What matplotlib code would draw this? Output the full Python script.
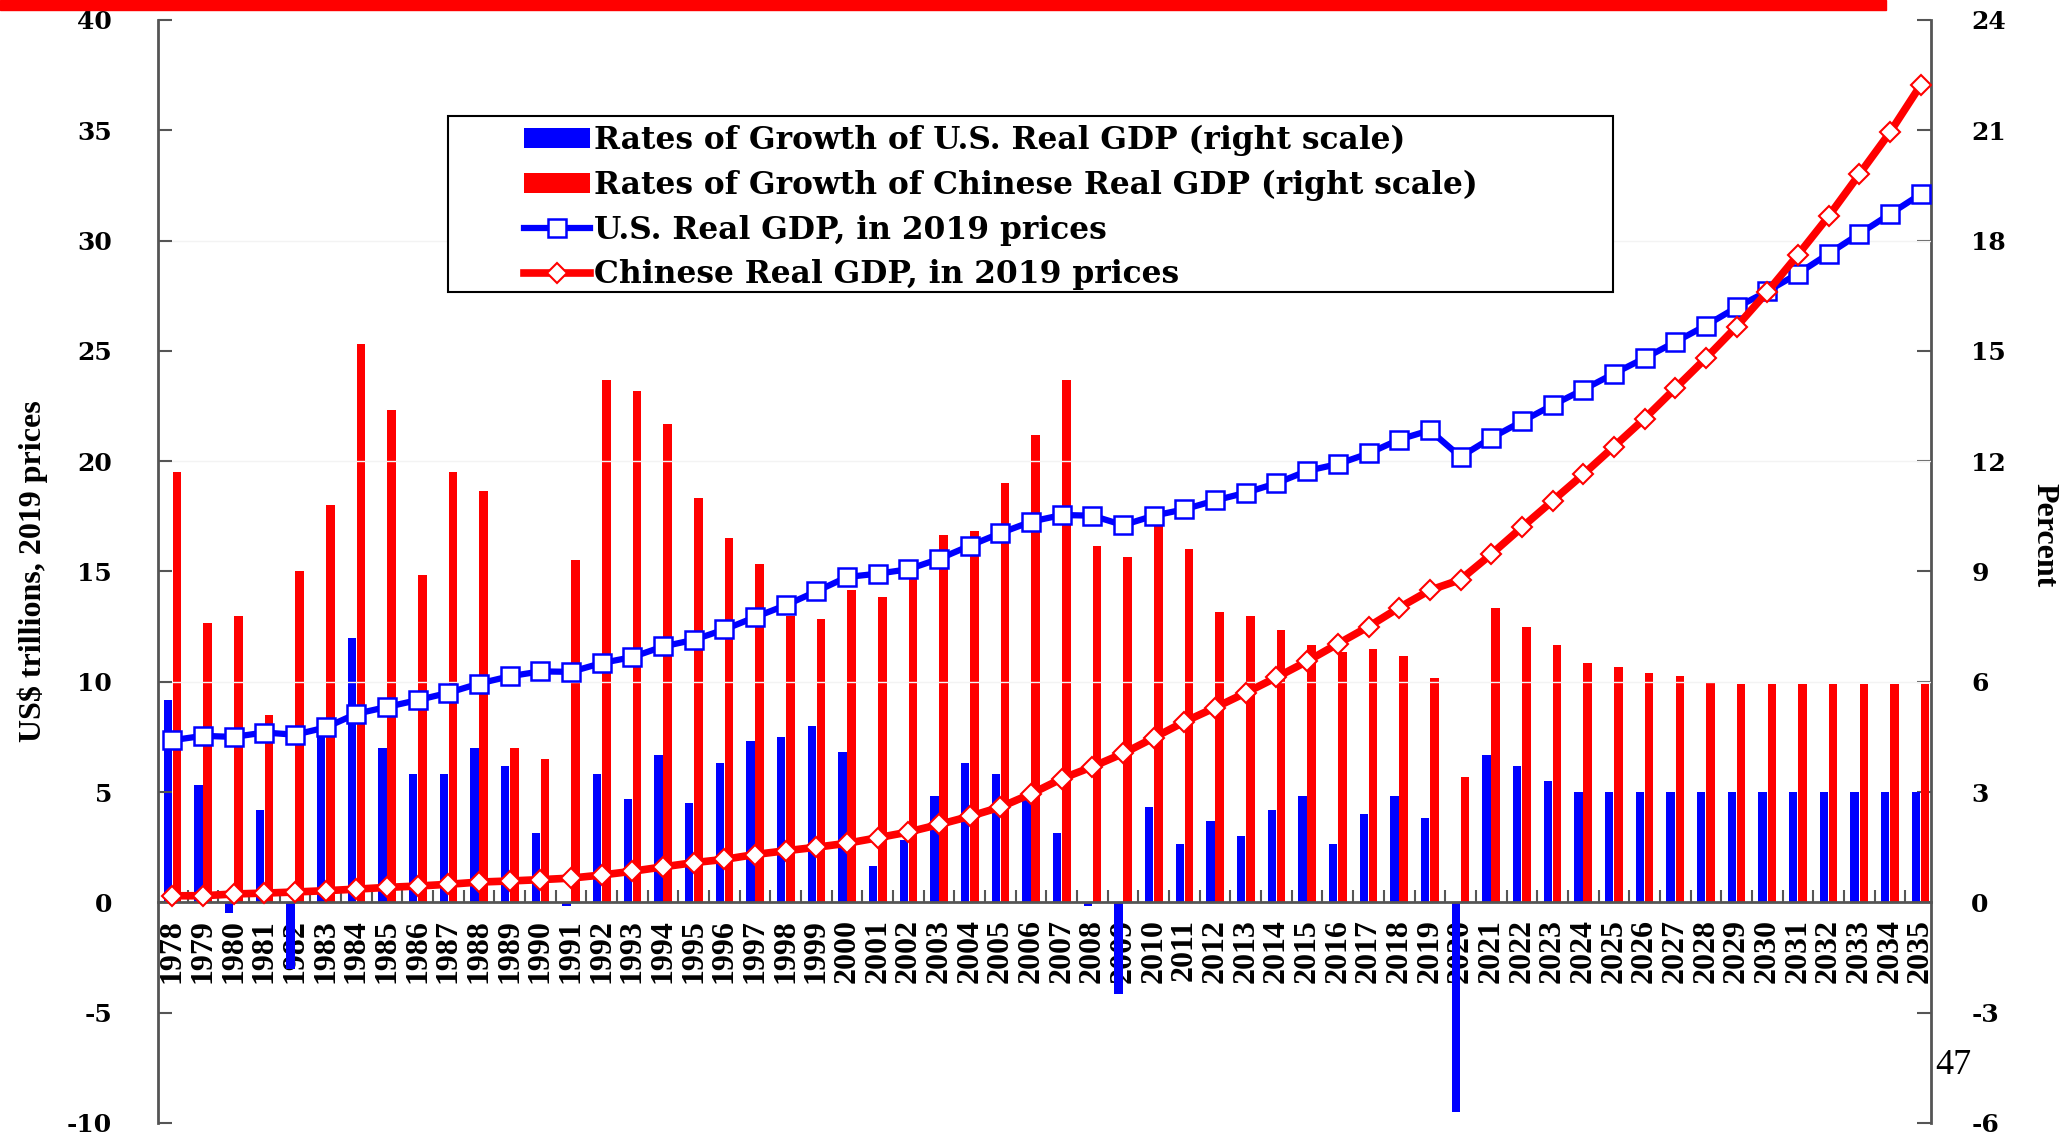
import numpy as np
import matplotlib
matplotlib.use('Agg')
import matplotlib.pyplot as plt
from matplotlib.patches import Rectangle
from matplotlib.ticker import FixedLocator

# data
years = list(range(1978, 2036))

us_growth = [5.5, 3.2, -0.3, 2.5, -1.8, 4.6, 7.2, 4.2, 3.5, 3.5,
             4.2, 3.7, 1.9, -0.1, 3.5, 2.8, 4.0, 2.7, 3.8, 4.4,
             4.5, 4.8, 4.1, 1.0, 1.7, 2.9, 3.8, 3.5, 2.8, 1.9,
             -0.1, -2.5, 2.6, 1.6, 2.2, 1.8, 2.5, 2.9, 1.6, 2.4,
             2.9, 2.3, -5.7, 4.0, 3.7, 3.3, 3.0, 3.0, 3.0, 3.0,
             3.0, 3.0, 3.0, 3.0, 3.0, 3.0, 3.0, 3.0]

cn_growth = [11.7, 7.6, 7.8, 5.1, 9.0, 10.8, 15.2, 13.4, 8.9, 11.7,
             11.2, 4.2, 3.9, 9.3, 14.2, 13.9, 13.0, 11.0, 9.9, 9.2,
             7.8, 7.7, 8.5, 8.3, 9.1, 10.0, 10.1, 11.4, 12.7, 14.2,
             9.7, 9.4, 10.6, 9.6, 7.9, 7.8, 7.4, 7.0, 6.8, 6.9,
             6.7, 6.1, 3.4, 8.0, 7.5, 7.0, 6.5, 6.4, 6.25, 6.15,
             6.0, 5.95, 5.95, 5.95, 5.95, 5.95, 5.95, 5.95]

us_gdp = [7.35, 7.55, 7.5, 7.7, 7.6, 7.93, 8.55, 8.86, 9.17, 9.5,
          9.92, 10.25, 10.47, 10.45, 10.85, 11.12, 11.6, 11.9, 12.37, 12.93,
          13.47, 14.1, 14.75, 14.9, 15.1, 15.57, 16.17, 16.74, 17.26, 17.56,
          17.53, 17.1, 17.53, 17.82, 18.22, 18.57, 19.0, 19.56, 19.87, 20.35,
          20.98, 21.4, 20.2, 21.05, 21.8, 22.54, 23.24, 23.97, 24.67, 25.4,
          26.15, 26.97, 27.7, 28.5, 29.4, 30.3, 31.2, 32.1]

cn_gdp = [0.3, 0.3, 0.38, 0.42, 0.47, 0.53, 0.6, 0.68, 0.74, 0.82,
          0.92, 0.97, 1.03, 1.1, 1.24, 1.41, 1.61, 1.8, 1.95, 2.17,
          2.34, 2.5, 2.68, 2.93, 3.19, 3.53, 3.9, 4.32, 4.92, 5.61,
          6.15, 6.75, 7.46, 8.19, 8.83, 9.5, 10.2, 10.93, 11.72, 12.5,
          13.36, 14.15, 14.63, 15.78, 17.0, 18.2, 19.4, 20.66, 21.93, 23.3,
          24.67, 26.1, 27.67, 29.35, 31.1, 33.0, 34.9, 37.04]

left_ticks = list(range(-10, 41, 5))
right_ticks = list(range(-6, 25, 3))

labels = ['Rates of Growth of U.S. Real GDP (right scale)',
          'Rates of Growth of Chinese Real GDP (right scale)',
          'U.S. Real GDP, in 2019 prices',
          'Chinese Real GDP, in 2019 prices']

BLUE = '#0000ff'
RED = '#ff0000'
AXCOL = '#555555'
# slide text is a horizontally stretched Times: wide serif for horizontal text
WIDE = ['DejaVu Serif']
NARROW = ['Liberation Serif', 'DejaVu Serif']

plt.rcParams['font.family'] = NARROW
plt.rcParams['font.weight'] = 'bold'

fig = plt.figure(figsize=(20.65, 11.35), dpi=100)
ax = fig.add_axes([0.0765, 0.0106, 0.8586, 0.9718])
ax2 = ax.twinx()

x = np.arange(len(years))

# bars on the right (percent) scale
b_us = ax2.bar(x - 0.15, us_growth, width=0.27, color=BLUE, zorder=3)
b_cn = ax2.bar(x + 0.15, cn_growth, width=0.28, color=RED, zorder=3)

# levels on the left scale, drawn above the bars
l_us, = ax.plot(x, us_gdp, color=BLUE, lw=4.5, marker='s', ms=13,
                mfc='white', mec=BLUE, mew=1.8, zorder=4)
l_cn, = ax.plot(x, cn_gdp, color=RED, lw=5.5, marker='D', ms=10,
                mfc='white', mec=RED, mew=1.5, zorder=5)
ax.set_zorder(ax2.get_zorder() + 1)
ax.patch.set_visible(False)

ax.set_xlim(-0.47, 57.34)
ax.set_ylim(-10, 40)
ax2.set_ylim(-6, 24)

ax.set_yticks(left_ticks)
ax.set_yticklabels([str(t) for t in left_ticks], family=WIDE)
ax2.set_yticks(right_ticks)
ax2.set_yticklabels([str(t) for t in right_ticks], family=WIDE)

for t in [10, 20, 30]:
    ax.axhline(t, color='#f3f3f3', lw=1, zorder=0)

# x axis sits on zero; year labels on the bar axes so negative bars cover them
ax.spines['bottom'].set_position(('data', 0))
ax2.spines['bottom'].set_position(('data', 0))
ax2.spines['bottom'].set_visible(False)
ax.spines['top'].set_visible(False)
ax2.spines['top'].set_visible(False)
ax.spines['right'].set_visible(False)
ax2.spines['left'].set_visible(False)
for sp in [ax.spines['left'], ax.spines['bottom'], ax2.spines['right']]:
    sp.set_color(AXCOL)
    sp.set_linewidth(2)

ax2.xaxis.set_visible(True)
ax.set_xticks(x)
ax.set_xticklabels([str(y) for y in years])
ax.xaxis.set_minor_locator(FixedLocator(x[:-1] + 0.5))
ax.tick_params(axis='x', which='major', length=0, labelbottom=False)
ax.tick_params(axis='x', which='minor', direction='in', length=9,
               width=1.5, color=AXCOL)
ax2.tick_params(axis='x', which='both', length=0, labelbottom=True,
                labelsize=23, pad=12, labelrotation=90)

ax.tick_params(axis='y', direction='in', length=10, width=1.5, color=AXCOL,
               labelsize=18, pad=33)
ax2.tick_params(axis='y', direction='in', length=10, width=1.5, color=AXCOL,
                labelsize=18, pad=29)

# legend: own frame, entries indented like the slide
ax.add_patch(Rectangle((0.1636, 0.7534), 0.657, 0.1596, transform=ax.transAxes,
                       facecolor='white', edgecolor='black', lw=1.5, zorder=6))
leg = ax.legend([b_us, b_cn, l_us, l_cn], labels, loc='upper left',
                bbox_to_anchor=(0.2064, 0.905), frameon=False,
                borderaxespad=0, borderpad=0,
                prop={'family': WIDE, 'weight': 'bold', 'size': 22.5},
                handlelength=2.1, handletextpad=0.15, handleheight=0.6,
                labelspacing=0.44, numpoints=1)
leg.set_zorder(7)

fig.text(33 / 2065, 0.497, 'US$ trillions, 2019 prices', rotation=90,
         ha='center', va='center', fontsize=23)
fig.text(2044 / 2065, 0.5286, 'Percent', rotation=270,
         ha='center', va='center', fontsize=23)
fig.text(1953 / 2065, 0.0615, '47', fontsize=26, fontweight='normal',
         ha='center', va='center')

fig.add_artist(Rectangle((0, 1 - 10 / 1135), 1886 / 2065, 10 / 1135,
                         transform=fig.transFigure, color=RED, zorder=10))

fig.savefig('out.png', dpi=100)
